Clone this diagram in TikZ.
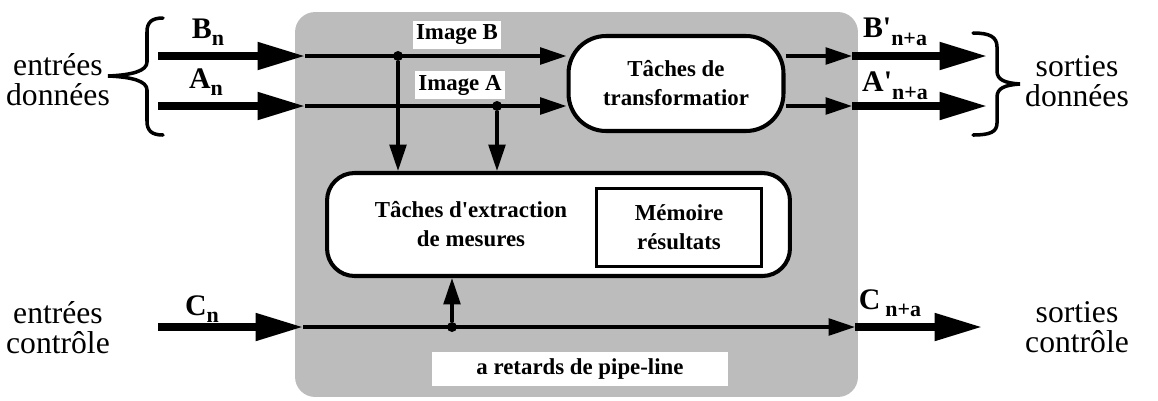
\documentclass[tikz,border=0pt]{standalone}
\usepackage{fontspec}
\setmainfont{Liberation Serif}
\usepackage{tikz}
\usetikzlibrary{arrows.meta, positioning}
\definecolor{trame}{RGB}{188, 188, 188}
\newcommand{\petitgras}{\fontsize{13}{16.5}\selectfont\bfseries}
\newcommand{\lowidx}[1]{\raisebox{-0.55ex}{\fontsize{12.5}{12.5}\selectfont #1}}

\begin{document}
\begin{tikzpicture}[
    x=0.02cm, y=-0.02cm,
    fond/.style={rectangle, rounded corners=0.4cm, fill=trame, minimum width=11.26cm, minimum height=7.7cm},
    tache/.style={rectangle, draw, line width=2.3pt, fill=white, align=center, font=\petitgras},
    memo/.style={rectangle, draw, line width=1.9pt, fill=white, align=center, font=\petitgras, minimum width=3.3cm, minimum height=1.55cm},
    texte/.style={align=center, font=\petitgras},
    cartouche/.style={fill=white, inner sep=2pt, font=\petitgras},
    etiq/.style={font=\fontsize{17}{17}\selectfont\bfseries, inner sep=0pt},
    cote/.style={align=center, font=\fontsize{18}{17}\selectfont},
    dot/.style={circle, fill, inner sep=0pt, minimum size=0.2cm},
    filet/.style={line width=1.9pt, -{Triangle[length=15pt, width=9.5pt]}},
    gros/.style={line width=4pt, -{Triangle[length=27pt, width=15pt]}},
    accol/.style={line width=2pt, line cap=round}
]
\useasboundingbox (0,0) rectangle (1158,400);

% zone du pipe-line
\node[fond] (pipe) at (576.5,204.5) {};
\node[cartouche, minimum width=5.92cm, minimum height=0.68cm] (retards) at (580,369) {a retards de pipe-line};

% taches
\node[tache, rounded corners=0.75cm, minimum width=4.3cm, minimum height=1.9cm] (T) at (676,83.5) {T\^aches de\\transformatior};
\node[tache, rounded corners=0.55cm, minimum width=9.26cm, minimum height=2.06cm] (X) at (558.5,224.5) {};
\node[texte] (Xt) at (471,224) {T\^aches d\textquotesingle extraction\\de mesures};
\node[memo] (M) at (679,227.5) {M\'emoire\\r\'esultats};

% points d'entree et de sortie
\coordinate (inB) at (158,56);
\coordinate (inA) at (158,106);
\coordinate (inC) at (158,327);
\coordinate (jB) at (305,56);
\coordinate (jA) at (305,106);
\coordinate (jC) at (303,327);
\coordinate (oB) at (852,56);
\coordinate (oA) at (852,106);
\coordinate (oC) at (855,327);
\coordinate (eB) at (987,56);
\coordinate (eA) at (987,106);
\coordinate (eC) at (982,327);

\node[dot] (dB) at (398,56) {};
\node[dot] (dA) at (497,106) {};
\node[dot] (dC) at (452,327) {};

% images
\node[cartouche] (imB) at (457,35) {Image B};
\node[cartouche] (imA) at (460,85) {Image A};

% liaisons donnees
\draw[gros] (inB) -- (jB);
\draw[gros] (inA) -- (jA);
\draw[filet] (jB) -- (jB -| T.west);
\draw[filet] (jA) -- (jA -| T.west);
\draw[filet] (dB) -- (dB |- X.north);
\draw[filet] (dA) -- (dA |- X.north);
\draw[filet] (T.east |- oB) -- (oB);
\draw[filet] (T.east |- oA) -- (oA);
\draw[gros] (oB) -- (eB);
\draw[gros] (oA) -- (eA);

% liaisons controle
\draw[gros] (inC) -- (jC);
\draw[filet] (jC) -- (oC);
\draw[gros] (oC) -- (eC);
\draw[filet] (dC) -- (dC |- X.south);

% etiquettes
\node[etiq] (lB) at (208,32) {B\lowidx{n}};
\node[etiq] (lA) at (206,82) {A\lowidx{n}};
\node[etiq] (lC) at (202,309) {C\lowidx{n}};
\node[etiq] (lBo) at (895,32) {B\textquotesingle\lowidx{n+a}};
\node[etiq] (lAo) at (895,86) {A\textquotesingle\lowidx{n+a}};
\node[etiq] (lCo) at (890,303) {C\,\lowidx{n+a}};

\node[cote] (entD) at (58,80) {entr\'ees\\donn\'ees};
\node[cote] (sorD) at (1077,81) {sorties\\donn\'ees};
\node[cote] (entC) at (58,328) {entr\'ees\\contr\^ole};
\node[cote] (sorC) at (1077,327) {sorties\\contr\^ole};

% accolades
\draw[accol] (163,18) .. controls (152,18) and (147,22) .. (147,32) -- (147,62) .. controls (147,71) and (132,75) .. (108,76) .. controls (132,77) and (147,81) .. (147,90) -- (147,121) .. controls (147,131) and (152,135) .. (163,135);
\draw[accol] (973,33) .. controls (990,33) and (997,37) .. (997,47) -- (997,71) .. controls (997,80) and (1005,83) .. (1020,84) .. controls (1005,85) and (997,88) .. (997,97) -- (997,123) .. controls (997,132) and (990,135) .. (973,135);
\end{tikzpicture}
\end{document}
